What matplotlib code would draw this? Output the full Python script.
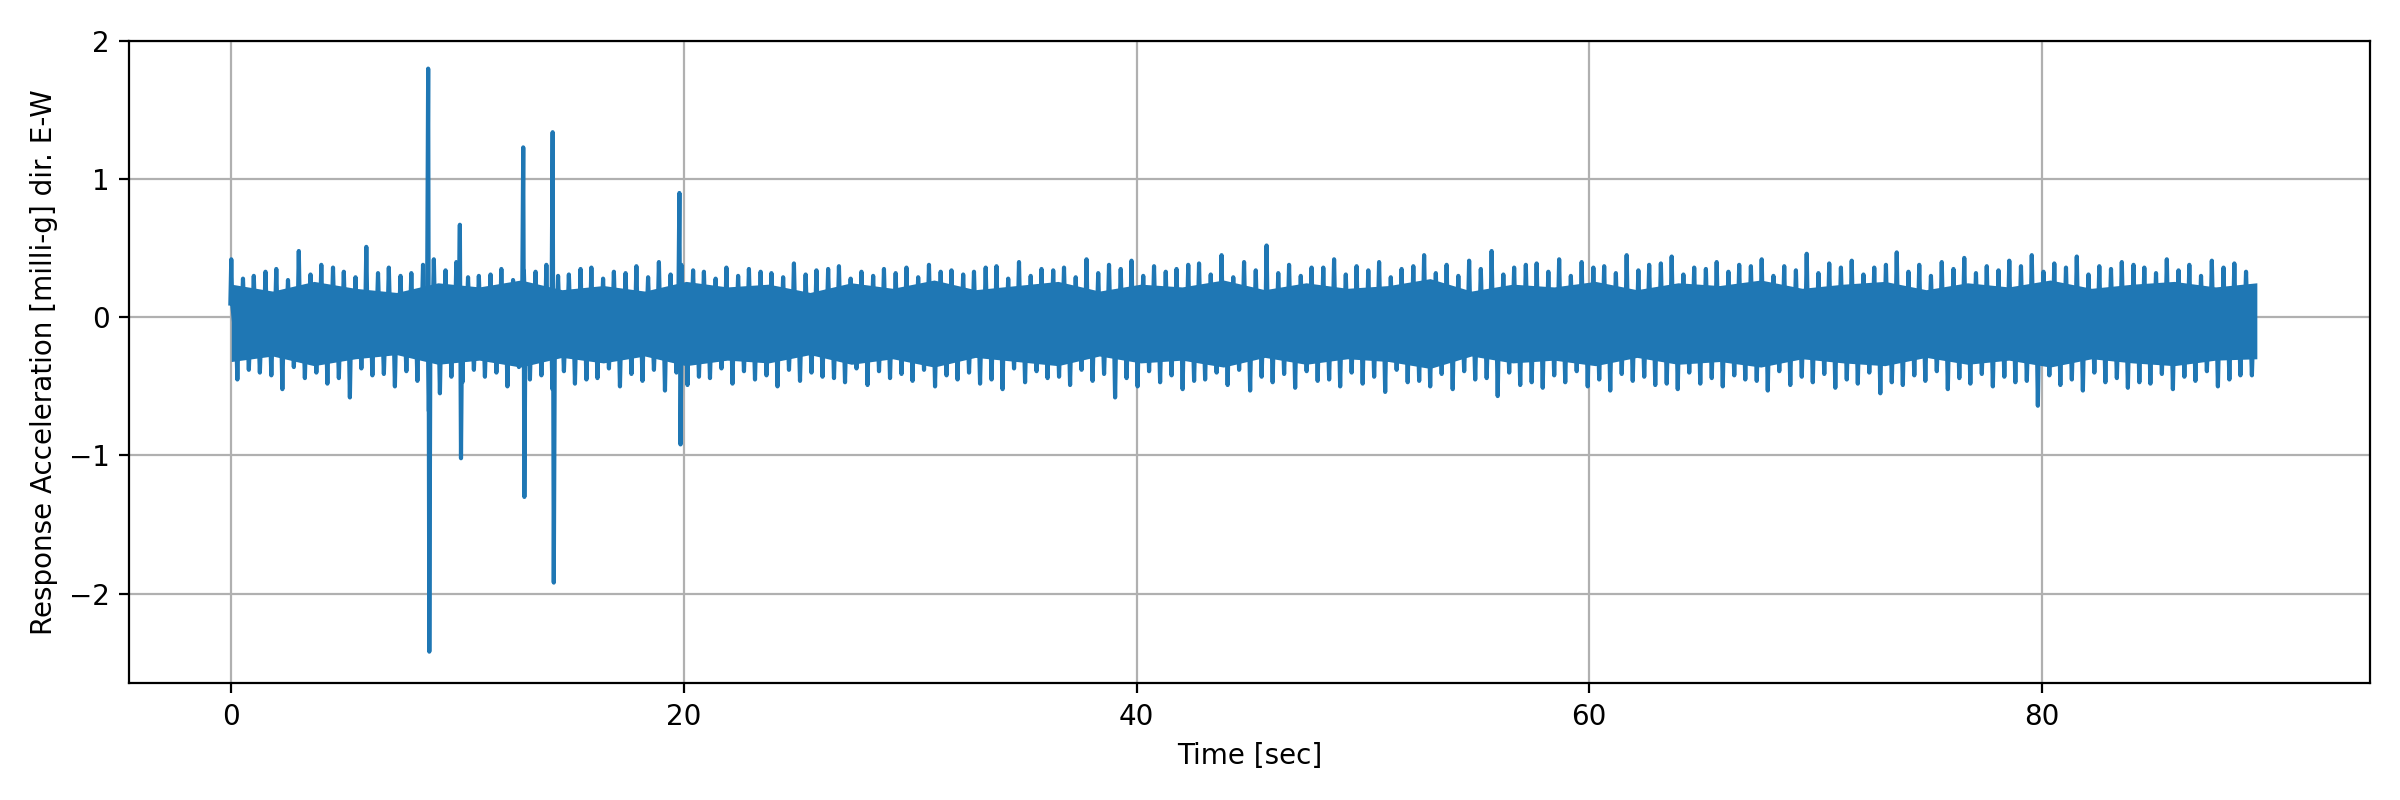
import numpy as np
import matplotlib
matplotlib.use("Agg")
import matplotlib.pyplot as plt

# main upper / lower peak per second (milli-g)
upper_peaks = [0.42,0.30,0.35,0.48,0.38,0.33,0.51,0.36,0.32,0.42,0.40,0.30,0.35,0.34,0.38,0.31,0.36,0.33,0.37,0.40,
               0.38,0.33,0.36,0.35,0.32,0.39,0.34,0.37,0.33,0.35,0.36,0.38,0.34,0.33,0.37,0.40,0.35,0.36,0.42,0.38,
               0.41,0.37,0.35,0.39,0.45,0.40,0.52,0.38,0.36,0.42,0.37,0.40,0.35,0.45,0.38,0.41,0.48,0.36,0.39,0.42,
               0.40,0.37,0.45,0.38,0.44,0.36,0.40,0.38,0.42,0.37,0.46,0.39,0.41,0.36,0.47,0.38,0.40,0.43,0.37,0.41,
               0.45,0.39,0.44,0.37,0.40,0.36,0.42,0.38,0.41,0.39]
lower_peaks = [-0.45,-0.40,-0.52,-0.44,-0.48,-0.58,-0.42,-0.50,-0.46,-0.55,-0.47,-0.43,-0.50,-0.45,-0.52,-0.48,-0.44,-0.50,-0.46,-0.53,
               -0.49,-0.44,-0.48,-0.45,-0.50,-0.46,-0.43,-0.47,-0.49,-0.44,-0.46,-0.50,-0.45,-0.48,-0.52,-0.47,-0.44,-0.49,-0.46,-0.58,
               -0.50,-0.47,-0.52,-0.45,-0.49,-0.53,-0.47,-0.51,-0.46,-0.50,-0.48,-0.54,-0.47,-0.50,-0.52,-0.45,-0.57,-0.49,-0.51,-0.47,
               -0.50,-0.53,-0.46,-0.49,-0.52,-0.48,-0.50,-0.45,-0.53,-0.49,-0.47,-0.51,-0.48,-0.55,-0.49,-0.46,-0.52,-0.48,-0.50,-0.47,
               -0.64,-0.49,-0.53,-0.47,-0.51,-0.48,-0.52,-0.46,-0.50,-0.42]
# secondary (smaller) peaks
upper_peaks2 = [0.28,0.33,0.27,0.31,0.36,0.29,0.32,0.30,0.38,0.34,0.29,0.31,0.27,0.33,0.30,0.35,0.28,0.32,0.29,0.31,
                0.34,0.28,0.30,0.33,0.29,0.31,0.35,0.28,0.30,0.32,0.29,0.33,0.31,0.36,0.28,0.30,0.34,0.29,0.32,0.35,
                0.30,0.33,0.38,0.31,0.29,0.34,0.32,0.30,0.36,0.31,0.34,0.29,0.37,0.32,0.30,0.35,0.31,0.38,0.33,0.30,
                0.36,0.32,0.34,0.39,0.31,0.35,0.33,0.37,0.30,0.34,0.32,0.36,0.31,0.38,0.33,0.30,0.35,0.32,0.34,0.37,
                0.33,0.36,0.31,0.35,0.38,0.32,0.34,0.30,0.36,0.33]
lower_peaks2 = [-0.38,-0.42,-0.36,-0.40,-0.44,-0.37,-0.41,-0.39,-0.68,-0.43,-0.38,-0.40,-0.36,-0.42,-0.39,-0.45,-0.37,-0.41,-0.38,-0.40,
                -0.43,-0.37,-0.39,-0.42,-0.38,-0.40,-0.44,-0.37,-0.39,-0.41,-0.38,-0.42,-0.40,-0.45,-0.37,-0.39,-0.43,-0.38,-0.41,-0.44,
                -0.39,-0.42,-0.46,-0.40,-0.38,-0.43,-0.41,-0.39,-0.45,-0.40,-0.43,-0.38,-0.46,-0.41,-0.39,-0.44,-0.40,-0.47,-0.42,-0.39,
                -0.45,-0.41,-0.43,-0.48,-0.40,-0.44,-0.42,-0.46,-0.39,-0.43,-0.41,-0.45,-0.40,-0.47,-0.42,-0.39,-0.44,-0.41,-0.43,-0.46,
                -0.42,-0.45,-0.40,-0.44,-0.47,-0.41,-0.43,-0.39,-0.45,-0.42]
# ragged edge of the dense central band
core_upper = [0.24,0.19,0.26,0.21,0.18,0.25,0.22,0.27,0.20,0.23,0.19,0.26,0.22,0.24,0.18,0.25,0.21,0.27,0.20,0.23,
              0.26,0.19,0.24,0.22,0.27,0.20,0.25,0.21,0.23,0.28,0.19,0.24,0.22,0.26,0.20,0.25,0.23,0.27,0.21,0.24,
              0.26,0.20,0.25,0.22,0.27,0.21,0.24,0.26,0.22,0.25]
core_lower = [-0.32,-0.28,-0.35,-0.30,-0.27,-0.34,-0.31,-0.36,-0.29,-0.33,-0.28,-0.35,-0.31,-0.33,-0.27,-0.34,-0.30,-0.36,-0.29,-0.32,
              -0.35,-0.28,-0.33,-0.31,-0.36,-0.29,-0.34,-0.30,-0.32,-0.37,-0.28,-0.33,-0.31,-0.35,-0.29,-0.34,-0.32,-0.36,-0.30,-0.33,
              -0.35,-0.29,-0.34,-0.31,-0.36,-0.30,-0.33,-0.35,-0.31,-0.30]
event_t = [8.7, 10.1, 12.9, 14.2, 19.8]
event_hi = [1.80, 0.67, 1.23, 1.34, 0.90]
event_lo = [-2.42, -1.02, -1.30, -1.92, -0.92]
t_end = 89.5

color = "#1f77b4"
fig, ax = plt.subplots(figsize=(12, 4), dpi=200)

tc = np.linspace(0, t_end, len(core_upper))
ax.fill_between(tc, core_lower, core_upper, color=color, lw=0, zorder=2)

n = len(upper_peaks)
dt = t_end / n
t_sec = np.arange(n) * dt
offs = [0.0, 0.27, 0.52, 0.78]
series = [upper_peaks, lower_peaks, upper_peaks2, lower_peaks2]
tt, yy = [], []
for i in range(n):
    for o, s in zip(offs, series):
        v = s[i]
        base = 0.1 if v > 0 else -0.2
        t = t_sec[i] + o * dt
        tt += [t - 0.04, t, t + 0.04]
        yy += [base, v, base]
ax.plot(tt, yy, color=color, lw=1.5, zorder=3)

for t, hi, lo in zip(event_t, event_hi, event_lo):
    ax.plot([t - 0.05, t, t + 0.05, t + 0.1], [0, hi, lo, 0], color=color, lw=1.5, zorder=3)

ax.set_xlim(-4.5, 94.5)
ax.set_ylim(-2.65, 2.0)
ax.set_yticks([-2, -1, 0, 1, 2])
ax.grid(True, color="#b0b0b0", zorder=0)
ax.set_axisbelow(True)
ax.set_xlabel("Time [sec]")
ax.set_ylabel("Response Acceleration [milli-g] dir. E-W")
fig.tight_layout()
fig.savefig("out.png")
